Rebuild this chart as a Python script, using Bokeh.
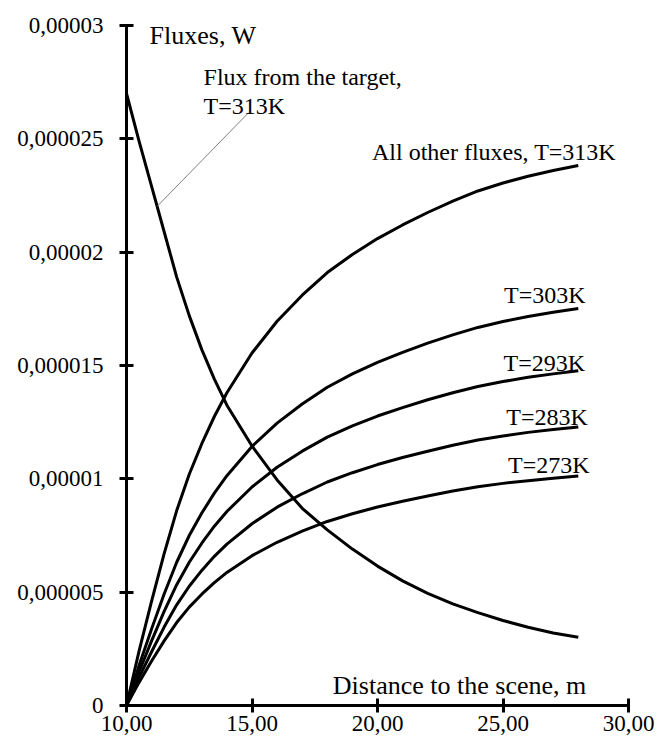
import numpy as np
from bokeh.plotting import figure
from bokeh.models import Range1d, FixedTicker, Label
from bokeh.embed import file_html
from bokeh.resources import INLINE

# Distance to the scene, m
distance = [10, 10.5, 11, 11.5, 12, 12.5, 13, 13.5, 14, 15, 16, 17, 18, 19, 20,
            21, 22, 23, 24, 25, 26, 27, 28]

# Fluxes in units of 1e-6 W
flux_target_313 = [27.0, 24.9, 22.9, 20.9, 18.9, 17.2, 15.7, 14.4, 13.25, 11.45, 9.95,
                   8.7, 7.75, 6.9, 6.15, 5.5, 4.95, 4.48, 4.1, 3.75, 3.45, 3.2, 3.01]
other_313 = [0, 2.4, 4.6, 6.7, 8.6, 10.2, 11.55, 12.75, 13.8, 15.55, 16.95, 18.1,
             19.1, 19.9, 20.6, 21.2, 21.75, 22.25, 22.7, 23.05, 23.35, 23.6, 23.82]
other_303 = [0, 1.76, 3.38, 4.92, 6.32, 7.50, 8.49, 9.37, 10.14, 11.43, 12.46, 13.30,
             14.04, 14.63, 15.14, 15.58, 15.99, 16.35, 16.68, 16.94, 17.16, 17.35, 17.51]
other_293 = [0, 1.49, 2.85, 4.15, 5.33, 6.32, 7.16, 7.91, 8.56, 9.64, 10.51, 11.22,
             11.84, 12.34, 12.77, 13.14, 13.49, 13.80, 14.07, 14.29, 14.48, 14.63, 14.77]
other_283 = [0, 1.24, 2.37, 3.46, 4.44, 5.26, 5.96, 6.58, 7.12, 8.02, 8.75, 9.34,
             9.86, 10.27, 10.63, 10.94, 11.22, 11.48, 11.71, 11.89, 12.05, 12.18, 12.29]
other_273 = [0, 1.02, 1.96, 2.85, 3.66, 4.34, 4.91, 5.42, 5.87, 6.61, 7.20, 7.69,
             8.12, 8.46, 8.76, 9.01, 9.24, 9.46, 9.65, 9.80, 9.92, 10.03, 10.12]

y_ticks = [0, 5, 10, 15, 20, 25, 30]
y_tick_labels = ["0", "0,000005", "0,00001", "0,000015", "0,00002", "0,000025", "0,00003"]
x_ticks = [10, 15, 20, 25, 30]
x_tick_labels = ["10,00", "15,00", "20,00", "25,00", "30,00"]

FONT = "Liberation Serif"

p = figure(width=659, height=745, x_range=Range1d(10, 30), y_range=Range1d(0, 30),
           output_backend="svg", toolbar_location=None,
           min_border_left=126, min_border_right=31, min_border_top=25, min_border_bottom=40)
p.outline_line_color = None
p.grid.visible = False
p.background_fill_color = "white"
p.border_fill_color = "white"

for ax in (p.xaxis[0], p.yaxis[0]):
    ax.axis_line_width = 3
    ax.axis_line_color = "black"
    ax.major_tick_line_width = 3
    ax.major_tick_line_color = "black"
    ax.major_tick_in = 7
    ax.major_tick_out = 7
    ax.minor_tick_line_color = None
    ax.major_label_text_font = FONT
    ax.major_label_text_font_size = "23px"
    ax.major_label_text_color = "black"

p.yaxis.ticker = FixedTicker(ticks=y_ticks)
p.yaxis.major_label_overrides = {t: s for t, s in zip(y_ticks, y_tick_labels)}
p.yaxis.major_label_standoff = 16
p.xaxis.ticker = FixedTicker(ticks=x_ticks)
p.xaxis.major_label_overrides = {t: s for t, s in zip(x_ticks, x_tick_labels)}
p.xaxis.major_label_standoff = 3

for series in (flux_target_313, other_313, other_303, other_293, other_283, other_273):
    p.line(distance, series, line_color="black", line_width=3, line_join="round")

# leader line from the label to the target-flux curve
lead_x = 11.22
lead_y = float(np.interp(lead_x, distance, flux_target_313))
p.line([14.86, lead_x], [26.15, lead_y], line_color="#808080", line_width=1)

labels = [
    ("Fluxes, W", 10.92, 29.56, "26px"),
    ("Flux from the target,", 13.07, 27.71, "24px"),
    ("T=313K", 13.07, 26.47, "24px"),
    ("All other fluxes, T=313K", 19.78, 24.41, "24px"),
    ("T=303K", 25.04, 18.09, "24px"),
    ("T=293K", 25.02, 15.12, "24px"),
    ("T=283K", 25.13, 12.72, "24px"),
    ("T=273K", 25.2, 10.59, "24px"),
    ("Distance to the scene, m", 18.22, 0.88, "26px"),
]
for txt, lx, ly, fs in labels:
    p.add_layout(Label(x=lx, y=ly, text=txt, text_font=FONT, text_font_size=fs,
                       text_color="black", text_align="left", text_baseline="alphabetic"))

open("out.html", "w").write(file_html(p, INLINE))
